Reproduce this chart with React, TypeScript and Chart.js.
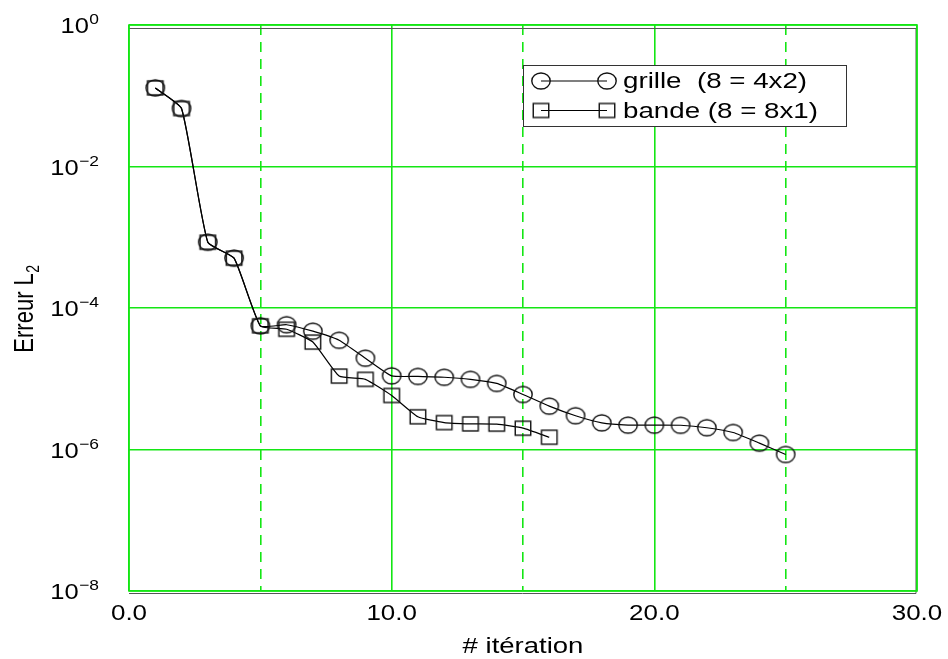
import React, { useEffect, useRef } from "react";
import { Chart, registerables } from "chart.js";

Chart.register(...registerables);

// ---- data ----
const iterGrille = [1, 2, 3, 4, 5, 6, 7, 8, 9, 10, 11, 12, 13, 14, 15, 16, 17, 18, 19, 20, 21, 22, 23, 24, 25];
const errGrille = [0.129, 0.066, 8.5e-4, 5.06e-4, 5.6e-5, 5.8e-5, 4.7e-5, 3.5e-5, 1.95e-5, 1.1e-5, 1.08e-5, 1.05e-5, 9.8e-6, 8.6e-6, 6.0e-6, 4.1e-6, 3.0e-6, 2.38e-6, 2.21e-6, 2.21e-6, 2.2e-6, 2.03e-6, 1.74e-6, 1.23e-6, 8.5e-7];
const iterBande = [1, 2, 3, 4, 5, 6, 7, 8, 9, 10, 11, 12, 13, 14, 15, 16];
const errBande = [0.129, 0.066, 8.5e-4, 5.06e-4, 5.6e-5, 5.0e-5, 3.3e-5, 1.09e-5, 9.8e-6, 5.8e-6, 2.9e-6, 2.4e-6, 2.3e-6, 2.28e-6, 2.0e-6, 1.49e-6];
const labelGrille = "grille  (8 = 4x2)";
const labelBande = "bande (8 = 8x1)";
const yTickValues = [1, 1e-2, 1e-4, 1e-6, 1e-8];
const yTickExps = ["0", "\u22122", "\u22124", "\u22126", "\u22128"];
const xTickValues = [0, 10, 20, 30];
const xTitle = "# itération";
const yTitleMain = "Erreur L";
const yTitleSub = "2";

const GREEN = "#14e614";
const FONT = '"Liberation Sans", Arial, sans-serif';

function makeCircle() {
  const c = document.createElement("canvas");
  c.width = 22;
  c.height = 20;
  const g = c.getContext("2d")!;
  g.strokeStyle = "#111";
  g.lineWidth = 1.4;
  g.beginPath();
  g.ellipse(11, 10, 9.2, 8, 0, 0, Math.PI * 2);
  g.stroke();
  return c;
}
function makeSquare() {
  const c = document.createElement("canvas");
  c.width = 20;
  c.height = 18;
  const g = c.getContext("2d")!;
  g.strokeStyle = "#111";
  g.lineWidth = 1.4;
  g.strokeRect(2.25, 2, 15.5, 14);
  return c;
}

function text(ctx: CanvasRenderingContext2D, s: string, x: number, y: number, size: number, align: CanvasTextAlign, sx: number) {
  ctx.save();
  ctx.font = `${size}px ${FONT}`;
  ctx.textAlign = align;
  ctx.textBaseline = "alphabetic";
  ctx.fillStyle = "#000";
  ctx.translate(x, y);
  ctx.scale(sx, 1);
  ctx.fillText(s, 0, 0);
  ctx.restore();
}
function measure(ctx: CanvasRenderingContext2D, s: string, size: number, sx: number) {
  ctx.save();
  ctx.font = `${size}px ${FONT}`;
  const w = ctx.measureText(s).width * sx;
  ctx.restore();
  return w;
}

export default function App() {
  const ref = useRef<HTMLCanvasElement | null>(null);
  useEffect(() => {
    if (!ref.current) return;
    const circ = makeCircle();
    const sq = makeSquare();

    const deco = {
      id: "deco",
      beforeDraw(chart: any) {
        const ctx = chart.ctx;
        ctx.save();
        ctx.fillStyle = "#fff";
        ctx.fillRect(0, 0, chart.width, chart.height);
        ctx.restore();
      },
      afterDraw(chart: any) {
        const ctx: CanvasRenderingContext2D = chart.ctx;
        const a = chart.chartArea;
        const xs = chart.scales.x;
        const ys = chart.scales.y;
        // frame
        ctx.save();
        ctx.strokeStyle = "#555";
        ctx.lineWidth = 1;
        ctx.beginPath();
        ctx.moveTo(a.left, a.top + 3.5);
        ctx.lineTo(a.right - 1, a.top + 3.5);
        ctx.lineTo(a.right - 1, a.bottom + 2.5);
        ctx.lineTo(a.left, a.bottom + 2.5);
        ctx.stroke();
        ctx.strokeStyle = GREEN;
        ctx.lineWidth = 1.6;
        ctx.strokeRect(a.left, a.top, a.right - a.left, a.bottom - a.top);
        ctx.restore();

        // y tick labels
        const tsx = 1.16;
        yTickValues.forEach((v, i) => {
          const py = ys.getPixelForValue(v);
          const sup = yTickExps[i];
          const xr = 99;
          const sw = measure(ctx, sup, 15, tsx);
          text(ctx, sup, xr - sw, py - 1, 15, "left", tsx);
          text(ctx, "10", xr - sw - 0.5, py + 8, 22, "right", tsx);
        });
        // x tick labels
        xTickValues.forEach((v) => {
          const px = xs.getPixelForValue(v);
          text(ctx, v.toFixed(1), px, 620, 22, "center", 1.18);
        });
        // x title
        text(ctx, xTitle, (a.left + a.right) / 2, 653, 21.5, "center", 1.28);
        // y title (rotated)
        {
          const sx = 1.25;
          const w1 = measure(ctx, yTitleMain, 22, 1);
          const w2 = measure(ctx, yTitleSub, 14, 1);
          const tot = w1 + w2;
          ctx.save();
          ctx.translate(33, 309);
          ctx.scale(sx, 1);
          ctx.rotate(-Math.PI / 2);
          ctx.fillStyle = "#000";
          ctx.textAlign = "left";
          ctx.textBaseline = "alphabetic";
          ctx.font = `22px ${FONT}`;
          ctx.fillText(yTitleMain, -tot / 2, 0);
          ctx.font = `14px ${FONT}`;
          ctx.fillText(yTitleSub, -tot / 2 + w1 + 0.5, 5);
          ctx.restore();
        }
        // legend
        {
          const L = 523.5, T = 65.5, R = 846.5, B = 126.5;
          ctx.save();
          ctx.fillStyle = "#fff";
          ctx.fillRect(L, T, R - L, B - T);
          ctx.strokeStyle = "#333";
          ctx.lineWidth = 1;
          ctx.strokeRect(L, T, R - L, B - T);
          const rows = [
            { y: 81, img: circ, base: 88, label: labelGrille },
            { y: 110.5, img: sq, base: 118, label: labelBande },
          ];
          rows.forEach((r) => {
            ctx.strokeStyle = "#000";
            ctx.lineWidth = 1.2;
            ctx.beginPath();
            ctx.moveTo(541, r.y);
            ctx.lineTo(607, r.y);
            ctx.stroke();
            ctx.drawImage(r.img, 541 - r.img.width / 2, r.y - r.img.height / 2);
            ctx.drawImage(r.img, 607 - r.img.width / 2, r.y - r.img.height / 2);
          });
          ctx.restore();
          rows.forEach((r) => text(ctx, r.label, 623, r.base, 22, "left", 1.26));
        }
      },
    };

    const chart = new Chart(ref.current, {
      type: "line",
      data: {
        datasets: [
          {
            label: labelGrille,
            data: iterGrille.map((x, i) => ({ x, y: errGrille[i] })),
            borderColor: "#000",
            borderWidth: 1.2,
            pointStyle: circ as any,
            tension: 0.15,
            fill: false,
          },
          {
            label: labelBande,
            data: iterBande.map((x, i) => ({ x, y: errBande[i] })),
            borderColor: "#000",
            borderWidth: 1.2,
            pointStyle: sq as any,
            tension: 0.15,
            fill: false,
          },
        ],
      },
      options: {
        animation: false,
        responsive: false,
        events: [],
        layout: { padding: { left: 129, right: 31, top: 25, bottom: 68 } },
        plugins: { legend: { display: false }, tooltip: { enabled: false } },
        scales: {
          x: {
            type: "linear",
            min: 0,
            max: 30,
            ticks: { display: false, stepSize: 5 },
            grid: { color: GREEN, lineWidth: 1.6, drawTicks: false },
            border: {
              display: false,
              dash: (c: any) => (c.tick && c.tick.value % 10 !== 0 ? [10, 7] : []),
            },
          },
          y: {
            type: "logarithmic",
            min: 1e-8,
            max: 1,
            ticks: { display: false },
            afterBuildTicks: (s: any) => {
              s.ticks = yTickValues.map((v) => ({ value: v }));
            },
            grid: { color: GREEN, lineWidth: 1.6, drawTicks: false },
            border: { display: false },
          },
        },
      } as any,
      plugins: [deco],
    });
    return () => chart.destroy();
  }, []);

  return (
    <div style={{ position: "fixed", left: 0, top: 0, width: 948, height: 659, background: "#fff" }}>
      <canvas ref={ref} width={948} height={659} style={{ display: "block" }} />
    </div>
  );
}
